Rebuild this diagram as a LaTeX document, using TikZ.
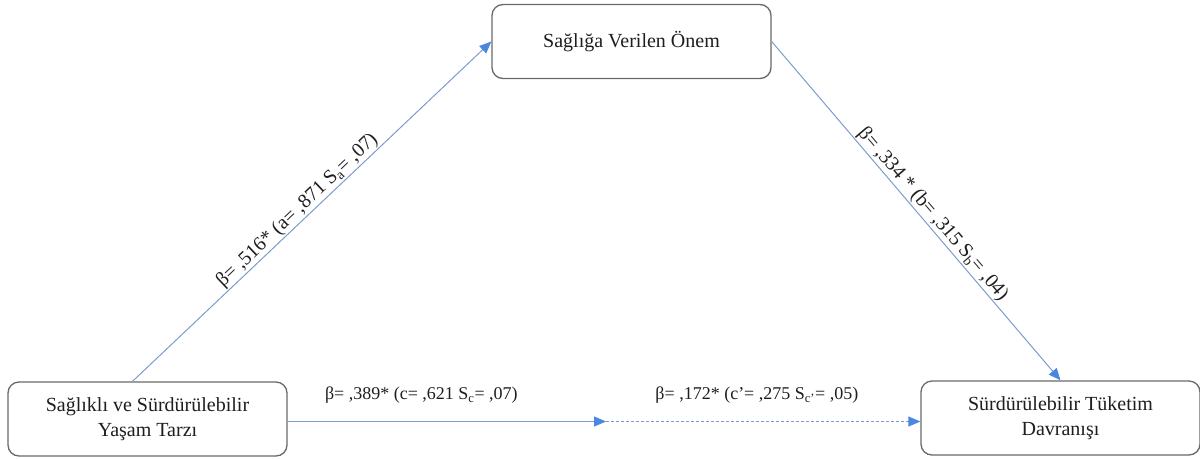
\documentclass[tikz,border=0pt]{standalone}
\usepackage{fontspec}
\setmainfont{Liberation Serif}
\usetikzlibrary{arrows.meta}
\definecolor{linec}{RGB}{125,155,205}
\definecolor{tipc}{RGB}{75,135,225}
\definecolor{boxc}{RGB}{105,105,105}
\definecolor{txtc}{RGB}{30,30,30}
\begin{document}
\begin{tikzpicture}[x=1pt,y=-1pt,
  box/.style={draw=boxc,line width=1.3pt,rounded corners=11pt,fill=white,
    minimum width=279pt,minimum height=74pt,inner sep=0pt,align=center,
    font=\fontsize{20}{25}\selectfont,text=txtc},
  conn/.style={draw=linec,line width=1pt,-{Triangle[length=12pt,width=10pt,color=tipc]}},
  lab/.style={font=\fontsize{18}{20}\selectfont,text=txtc,inner sep=0pt},
  dlab/.style={font=\fontsize{20}{22}\selectfont,text=txtc,inner sep=1pt,sloped,above}]
\useasboundingbox (0,0) rectangle (1200,459);
\node[box] (T) at (631.5,41.5) {Sağlığa Verilen Önem};
\node[box] (L) at (147.5,419) {Sağlıklı ve Sürdürülebilir\\Yaşam Tarzı};
\node[box] (R) at (1060.5,418) {Sürdürülebilir Tüketim\\Davranışı};
\coordinate (M) at (606,421.5);
\draw[conn] ([xshift=-15pt]L.north) -- node[dlab,pos=0.48]{β= ,516* (a= ,871 S\textsubscript{a}= ,07)} (T.west);
\draw[conn] (T.east) -- node[dlab,pos=0.53]{β= ,334 * (b= ,315 S\textsubscript{b}= ,04)} (R.north);
\draw[conn] (L.east |- M) -- node[lab,above=17.5pt,pos=0.42]{β= ,389* (c= ,621 S\textsubscript{c}= ,07)} (M);
\draw[conn,dash pattern=on 3pt off 2pt] (M) -- node[lab,above=17.5pt,pos=0.48]{β= ,172* (c’= ,275 S\textsubscript{c’}= ,05)} (R.west |- M);
\end{tikzpicture}
\end{document}
